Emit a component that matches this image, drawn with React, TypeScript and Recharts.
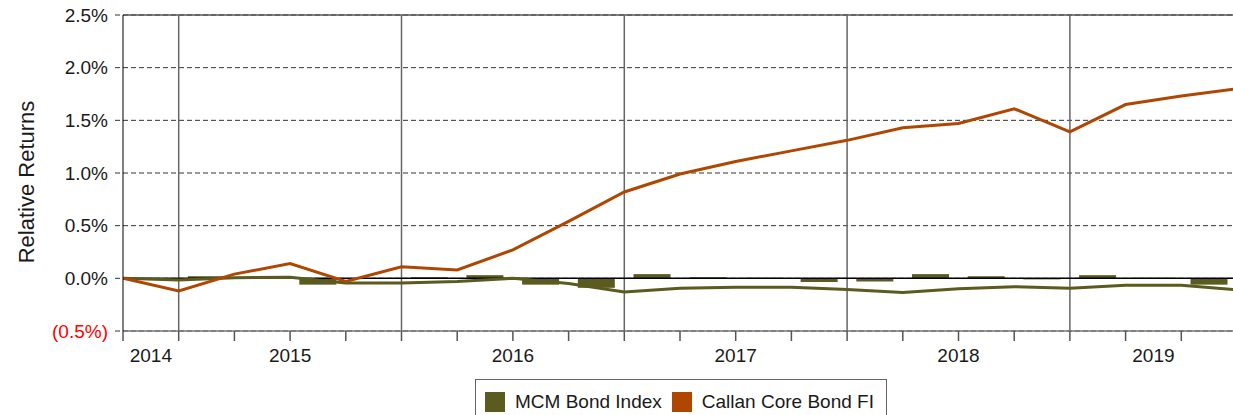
import React from 'react';
import { ComposedChart, Bar, Line, XAxis, YAxis, CartesianGrid, ReferenceLine, Legend, Label } from 'recharts';

// quarter index, 0 = end of 2013 Q4 ... 20 = 2018 Q4 end
const quarters = [0, 1, 2, 3, 4, 5, 6, 7, 8, 9, 10, 11, 12, 13, 14, 15, 16, 17, 18, 19, 20];

// cumulative relative returns (%)
const callanLine = [0, -0.12, 0.04, 0.14, -0.03, 0.11, 0.08, 0.27, 0.54, 0.82, 0.99, 1.11, 1.21, 1.31, 1.43, 1.47, 1.61, 1.39, 1.65, 1.73, 1.8];
const mcmLine = [0, -0.015, 0.005, 0.01, -0.045, -0.045, -0.03, 0.0, -0.05, -0.13, -0.095, -0.085, -0.085, -0.105, -0.135, -0.1, -0.08, -0.095, -0.065, -0.065, -0.11];

// quarterly relative returns (%), one per quarter interval
const mcmBars = [-0.01, 0.02, 0.005, -0.06, 0.0, 0.01, 0.03, -0.06, -0.09, 0.04, 0.01, 0.005, -0.035, -0.03, 0.04, 0.02, -0.01, 0.03, 0.005, -0.06];

const years = ['2014', '2015', '2016', '2017', '2018', '2019'];
const yearPos = [0.5, 3, 7, 11, 15, 18.5];
const yearBreaks = [1, 5, 9, 13, 17];
const yTicks = [-0.5, 0, 0.5, 1, 1.5, 2, 2.5];

const OLIVE = '#5b5a1f';
const ORANGE = '#b04700';
const FONT = 'Arial, "Liberation Sans", sans-serif';
const BAR_W = 37;

const legendItems = [
  { name: 'MCM Bond Index', color: OLIVE },
  { name: 'Callan Core Bond FI', color: ORANGE },
];

const data: any[] = [];
quarters.forEach((q, i) => {
  data.push({ x: q, mcm: mcmLine[i], callan: callanLine[i] });
  if (i < mcmBars.length) data.push({ x: q + 0.5, bar: mcmBars[i] });
});

const fmt = (v: number) => (v < 0 ? `(${Math.abs(v).toFixed(1)}%)` : `${v.toFixed(1)}%`);

const YTick = ({ x, y, payload }: any) => (
  <text x={x} y={y} dy={6.5} textAnchor="end" fontSize={19} fontFamily={FONT} fill={payload.value < 0 ? '#ff0000' : '#1a1a1a'}>
    {fmt(payload.value)}
  </text>
);

const QTick = ({ x, y }: any) => <line x1={x} x2={x} y1={y} y2={y + 10} stroke="#555" strokeWidth={1.5} />;

const YearTick = ({ x, y, payload }: any) => {
  const idx = yearPos.indexOf(payload.value);
  return (
    <text x={x} y={y} dy={14} textAnchor="middle" fontSize={19} fontFamily={FONT} fill="#1a1a1a">
      {years[idx]}
    </text>
  );
};

const WideBar = ({ x, y, width, height, fill }: any) => {
  if (height == null || width == null) return null;
  const cx = x + width / 2;
  const top = height < 0 ? y + height : y;
  return <rect x={cx - BAR_W / 2} y={top} width={BAR_W} height={Math.abs(height)} fill={fill} />;
};

const LegendBox = () => (
  <div style={{ display: 'flex', alignItems: 'center', height: '100%', paddingLeft: 9, fontFamily: FONT, fontSize: 19, color: '#1a1a1a' }}>
    {legendItems.map((it) => (
      <div key={it.name} style={{ display: 'flex', alignItems: 'center', marginRight: 10 }}>
        <span style={{ width: 20, height: 20, background: it.color, marginRight: 10, display: 'inline-block' }} />
        <span>{it.name}</span>
      </div>
    ))}
  </div>
);

export default function App() {
  return (
    <div style={{ position: 'absolute', left: 0, top: 0, width: 1233, height: 415, overflow: 'hidden', background: '#fff' }}>
      <ComposedChart width={1237} height={415} data={data} margin={{ top: 15, right: 0, bottom: 0, left: 0 }}>
        <CartesianGrid vertical={false} stroke="#333" strokeDasharray="5 3" />
        <XAxis
          xAxisId="q"
          dataKey="x"
          type="number"
          domain={[0, 20]}
          ticks={quarters}
          tick={<QTick />}
          tickSize={0}
          tickMargin={0}
          height={10}
          tickLine={false}
          axisLine={{ stroke: '#777', strokeWidth: 1.5 }}
          interval={0}
          allowDataOverflow
        />
        <XAxis
          xAxisId="yr"
          dataKey="x"
          type="number"
          domain={[0, 20]}
          ticks={yearPos}
          tick={<YearTick />}
          tickLine={false}
          axisLine={false}
          tickSize={0}
          tickMargin={7}
          height={74}
          interval={0}
          allowDataOverflow
        />
        <YAxis
          type="number"
          domain={[-0.5, 2.5]}
          ticks={yTicks}
          width={123}
          tick={<YTick />}
          tickSize={8}
          tickMargin={7}
          tickLine={{ stroke: '#333', strokeDasharray: '5 3' }}
          axisLine={{ stroke: '#000' }}
          interval={0}
        >
          <Label
            content={() => (
              <text x={34} y={182} transform="rotate(-90 34 182)" textAnchor="middle" fontSize={22} fontFamily={FONT} fill="#1a1a1a">
                Relative Returns
              </text>
            )}
          />
        </YAxis>
        <ReferenceLine xAxisId="q" y={2.5} stroke="#555" strokeWidth={1.5} />
        {yearBreaks.map((b) => (
          <ReferenceLine key={b} xAxisId="q" x={b} stroke="#666" strokeWidth={1.5} />
        ))}
        <ReferenceLine xAxisId="q" y={0} stroke="#000" strokeWidth={1.5} />
        <Bar xAxisId="q" dataKey="bar" fill={OLIVE} shape={<WideBar />} isAnimationActive={false} />
        <Line xAxisId="q" dataKey="mcm" stroke={OLIVE} strokeWidth={3} dot={false} connectNulls isAnimationActive={false} />
        <Line xAxisId="q" dataKey="callan" stroke={ORANGE} strokeWidth={3} dot={false} connectNulls isAnimationActive={false} />
        <Legend
          layout="horizontal"
          verticalAlign="middle"
          align="center"
          content={<LegendBox />}
          wrapperStyle={{ position: 'absolute', left: 475, top: 379, width: 412, height: 46, border: '1px solid #666', boxSizing: 'border-box', background: '#fff' }}
        />
      </ComposedChart>
    </div>
  );
}
